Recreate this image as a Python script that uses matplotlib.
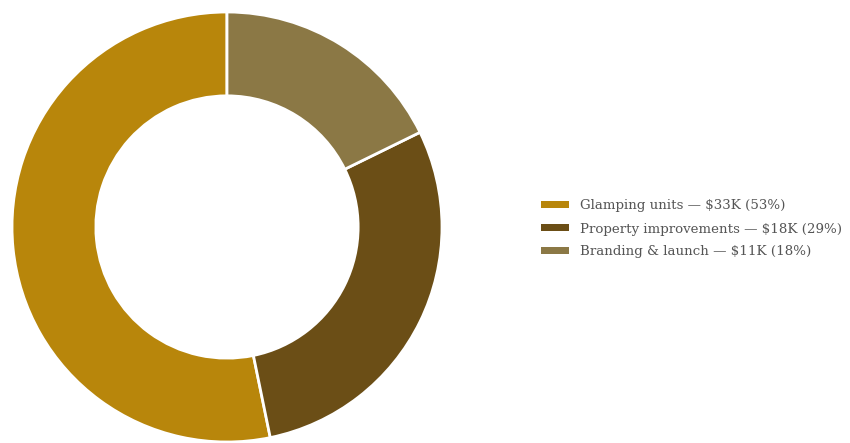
import matplotlib.pyplot as plt
from matplotlib.patches import Patch

labels = ['Glamping units', 'Property improvements', 'Branding & launch']
amounts = ['$33K', '$18K', '$11K']
values = [33, 18, 11]
pcts = [53, 29, 18]
colors = ['#B8860B', '#6B4E16', '#8B7845']

plt.rcParams['font.family'] = ['DejaVu Serif']

fig = plt.figure(figsize=(8.5, 4.43), dpi=100)
ax = fig.add_axes([12/850, 1/443, 430/850, 430/443])
ax.pie(values, colors=colors, startangle=90, counterclock=True,
       wedgeprops=dict(width=0.39, edgecolor='white', linewidth=2))
ax.set_xlim(-1, 1)
ax.set_ylim(-1, 1)
ax.set_aspect('equal')
ax.axis('off')

handles = [Patch(facecolor=c, edgecolor='none') for c in colors]
legtext = [l + ' \u2014 ' + a + ' (' + str(p) + '%)' for l, a, p in zip(labels, amounts, pcts)]
leg = fig.legend(handles, legtext, loc='center left', bbox_to_anchor=(541/850, 1 - 229/443),
                 frameon=False, fontsize=9.6, handlelength=2.1, handleheight=0.45,
                 handletextpad=0.8, labelspacing=0.75, borderpad=0, borderaxespad=0)
for t in leg.get_texts():
    t.set_color('#555555')

fig.savefig('out.png', dpi=100)
